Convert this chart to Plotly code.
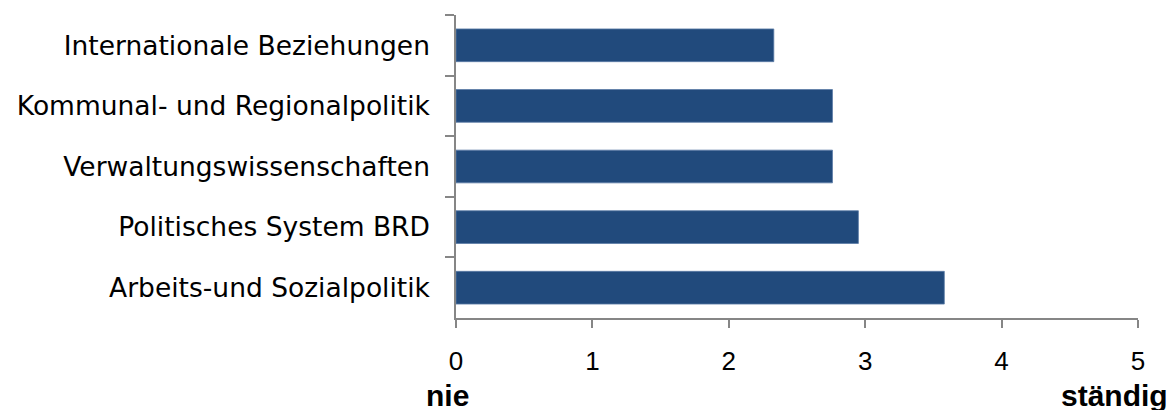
import plotly.graph_objects as go

categories = [
    "Internationale Beziehungen",
    "Kommunal- und Regionalpolitik",
    "Verwaltungswissenschaften",
    "Politisches System BRD",
    "Arbeits-und Sozialpolitik",
]
values = [2.33, 2.76, 2.76, 2.95, 3.58]
x_ticks = [0, 1, 2, 3, 4, 5]
scale_labels = {"low": "nie", "high": "ständig"}

axis_color = "#868686"

fig = go.Figure()
fig.add_trace(go.Bar(
    x=values,
    y=categories,
    orientation="h",
    width=0.54,
    marker=dict(color="#214A7C", line=dict(color="#5A7BA6", width=0.8)),
    hoverinfo="x+y",
))

fig.update_layout(
    width=1172,
    height=410,
    margin=dict(l=456, r=34, t=15, b=92, pad=0),
    paper_bgcolor="white",
    plot_bgcolor="white",
    showlegend=False,
    xaxis=dict(
        range=[0, 5],
        tickvals=x_ticks,
        ticktext=[str(t) for t in x_ticks],
        showgrid=False,
        zeroline=False,
        showline=True,
        linecolor=axis_color,
        linewidth=1.5,
        ticks="outside",
        ticklen=8,
        tickwidth=1.5,
        tickcolor=axis_color,
        tickfont=dict(family="Liberation Sans, Arial, sans-serif", size=26, color="#000000"),
        ticklabelstandoff=11,
    ),
    yaxis=dict(
        autorange="reversed",
        showgrid=False,
        zeroline=False,
        showline=True,
        linecolor=axis_color,
        linewidth=1.5,
        ticks="outside",
        tickson="boundaries",
        ticklen=9,
        tickwidth=1.5,
        tickcolor=axis_color,
        tickfont=dict(family="DejaVu Sans, Verdana, sans-serif", size=26.5, color="#000000"),
        ticklabelstandoff=19,
    ),
    annotations=[
        dict(x=x_ticks[0], y=0, xref="x", yref="paper", yshift=-59, xshift=-9,
             text="<b>" + scale_labels["low"] + "</b>", showarrow=False,
             xanchor="center", yanchor="top",
             font=dict(family="Liberation Sans, Arial, sans-serif", size=30, color="#000000")),
        dict(x=x_ticks[-1], y=0, xref="x", yref="paper", yshift=-59, xshift=-24,
             text="<b>" + scale_labels["high"] + "</b>", showarrow=False,
             xanchor="center", yanchor="top",
             font=dict(family="Liberation Sans, Arial, sans-serif", size=30, color="#000000")),
    ],
)

fig.write_html("out.html")
